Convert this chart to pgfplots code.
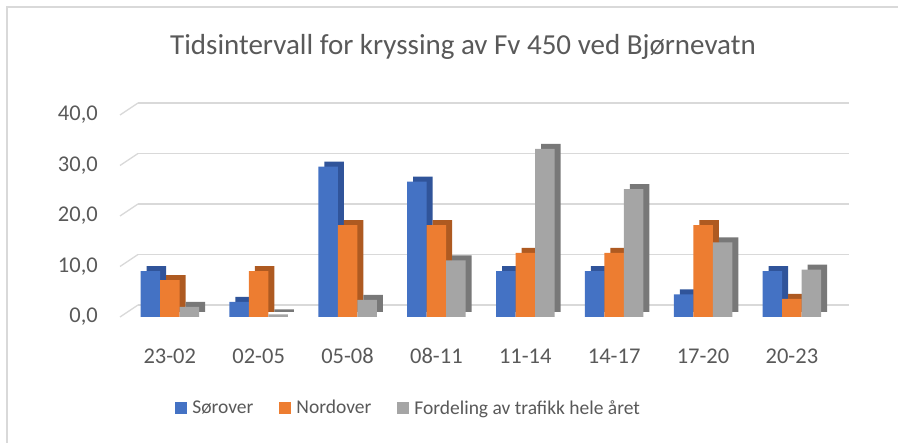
\documentclass[border=0pt]{standalone}
\usepackage{fontspec}
\setmainfont{Carlito}
\usepackage{pgfplots}
\usepackage{pgfplotstable}
\pgfplotsset{compat=1.18}
\definecolor{sorblue}{HTML}{4472C4}
\definecolor{sorside}{HTML}{30549A}
\definecolor{nordorange}{HTML}{ED7D31}
\definecolor{nordside}{HTML}{AE5A21}
\definecolor{fordgray}{HTML}{A5A5A5}
\definecolor{fordside}{HTML}{787878}
\definecolor{txtgray}{HTML}{595959}
\definecolor{gridgray}{HTML}{D9D9D9}

% share of crossings per time slot (%)
\pgfplotstableread{
x sor nord ford
0 9.1 7.3 2.0
1 3.0 9.1 0.5
2 29.8 18.2 3.4
3 26.8 18.2 11.2
4 9.1 12.7 33.3
5 9.1 12.7 25.3
6 4.5 18.2 14.8
7 9.1 3.6 9.4
}\crossdata

\begin{document}
\begin{tikzpicture}
\useasboundingbox (0pt,0pt) rectangle (898pt,443pt);
\draw[gridgray, line width=1.3pt] (7pt,-5pt) -- (7pt,436pt) -- (905pt,436pt);
\node[txtgray, font=\fontsize{29}{34}\selectfont] at (463pt,396pt)
  {Tidsintervall for kryssing av Fv 450 ved Bjørnevatn};
% value labels of the y axis (front plane: 0 at 126pt, 5.05pt per unit)
\foreach \v/\lab in {0/{0,0},10/{10,0},20/{20,0},30/{30,0},40/{40,0}}{
  \node[txtgray, font=\fontsize{22.5}{27}\selectfont, anchor=east, inner sep=0pt]
    at (98pt,126pt+\v*5.05pt) {\lab};
}
\begin{axis}[
    at={(120pt,126pt)}, anchor=south west,
    width=711pt, height=202pt, scale only axis,
    xmin=-0.56, xmax=7.44, ymin=0, ymax=40,
    clip=false,
    ybar, bar width=19.5pt,
    axis line style={draw=none},
    tick style={draw=none},
    xtick={0,...,7},
    xticklabels={23-02,02-05,05-08,08-11,11-14,14-17,17-20,20-23},
    ytick={0,10,20,30,40},
    yticklabels={},
    ymajorgrids,
    major grid style={draw=gridgray, line width=1.3pt, xshift=18pt, yshift=12pt},
    ticklabel style={txtgray, font=\fontsize{22.5}{27}\selectfont},
    xticklabel style={anchor=center, inner sep=0pt, yshift=-35pt},
    legend columns=3,
    legend style={draw=none, at={(0.406,-0.45)}, anchor=center,
        font=\fontsize{19.5}{24}\selectfont, text=txtgray,
        /tikz/every odd column/.append style={column sep=3pt},
        /tikz/every even column/.append style={column sep=24pt}},
    legend image code/.code={\fill[#1] (0pt,-6pt) rectangle (12pt,6pt);},
]
\pgfplotsinvokeforeach{0,10,20,30,40}{
  \draw[gridgray, line width=1.3pt] (axis cs:-0.56,#1) -- ++(18pt,12pt);
}
% Sørover
\addplot[fill=sorside, draw=none, bar shift=-13.5pt, yshift=5pt, forget plot]
  table[x=x, y=sor] {\crossdata};
\addplot[fill=sorblue, draw=none, bar shift=-19.5pt]
  table[x=x, y=sor] {\crossdata};
\addlegendentry{Sørover}
% Nordover
\addplot[fill=nordside, draw=none, bar shift=6pt, yshift=5pt, forget plot]
  table[x=x, y=nord] {\crossdata};
\addplot[fill=nordorange, draw=none, bar shift=0pt]
  table[x=x, y=nord] {\crossdata};
\addlegendentry{Nordover}
% Fordeling
\addplot[fill=fordside, draw=none, bar shift=25.5pt, yshift=5pt, forget plot]
  table[x=x, y=ford] {\crossdata};
\addplot[fill=fordgray, draw=none, bar shift=19.5pt]
  table[x=x, y=ford] {\crossdata};
\addlegendentry{Fordeling av trafikk hele året}
\end{axis}
\end{tikzpicture}
\end{document}
